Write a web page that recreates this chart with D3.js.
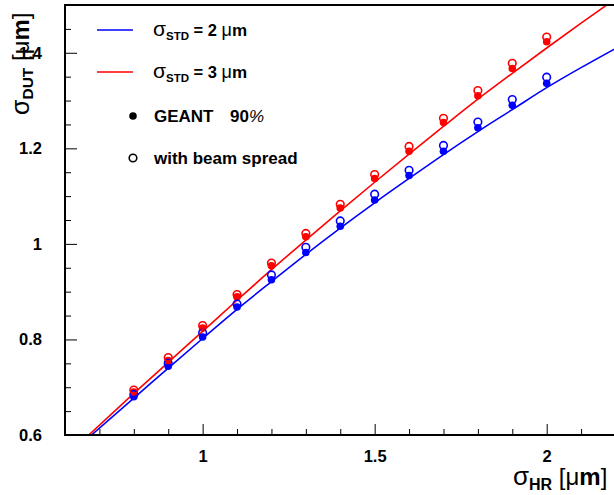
<!DOCTYPE html>
<html>
<head>
<meta charset="utf-8">
<script src="https://cdn.jsdelivr.net/npm/d3@7"></script>
<style>
  html, body { margin: 0; padding: 0; background: #fff; }
  svg { display: block; font-family: "Liberation Sans", Arial, sans-serif; }
</style>
</head>
<body>
<svg id="chart" width="614" height="495"></svg>
<script>
// ---- data ----
const sigmaHR = [0.8, 0.9, 1.0, 1.1, 1.2, 1.3, 1.4, 1.5, 1.6, 1.7, 1.8, 1.9, 2.0];
const geant2 = [0.680, 0.744, 0.805, 0.868, 0.925, 0.982, 1.037, 1.092, 1.143, 1.194, 1.243, 1.290, 1.336];
const beam2  = [0.685, 0.750, 0.814, 0.874, 0.935, 0.993, 1.048, 1.104, 1.154, 1.206, 1.255, 1.302, 1.349];
const geant3 = [0.690, 0.756, 0.824, 0.889, 0.954, 1.015, 1.075, 1.137, 1.194, 1.254, 1.310, 1.367, 1.423];
const beam3  = [0.694, 0.762, 0.829, 0.894, 0.960, 1.022, 1.083, 1.145, 1.204, 1.263, 1.321, 1.378, 1.433];

const curveX2 = [0.677, 0.8, 0.9, 1.0, 1.1, 1.2, 1.3, 1.4, 1.5, 1.6, 1.7, 1.8, 1.9, 2.0, 2.1, 2.2];
const curveY2 = [0.600, 0.677, 0.740, 0.802, 0.863, 0.921, 0.978, 1.033, 1.086, 1.137, 1.187, 1.235, 1.281, 1.327, 1.369, 1.409];
const curveX3 = [0.669, 0.8, 0.9, 1.0, 1.1, 1.2, 1.3, 1.4, 1.5, 1.6, 1.7, 1.8, 1.9, 2.0, 2.1, 2.2];
const curveY3 = [0.600, 0.687, 0.752, 0.817, 0.882, 0.946, 1.008, 1.069, 1.129, 1.188, 1.246, 1.303, 1.357, 1.410, 1.462, 1.513];

const xMajor = [1, 1.5, 2];
const xMajorLabels = ["1", "1.5", "2"];
const xMinor = [0.7, 0.8, 0.9, 1.1, 1.2, 1.3, 1.4, 1.6, 1.7, 1.8, 1.9, 2.1];
const yMajor = [0.6, 0.8, 1.0, 1.2, 1.4];
const yMajorLabels = ["0.6", "0.8", "1", "1.2", "1.4"];
const yMinor = [0.65, 0.7, 0.75, 0.85, 0.9, 0.95, 1.05, 1.1, 1.15, 1.25, 1.3, 1.35, 1.45];

const BLUE = "#0000ff", RED = "#ff0000";

// ---- layout ----
const svg = d3.select("#chart");
const x = d3.scaleLinear().domain([0.6, 2.2]).range([65, 615.5]);
const y = d3.scaleLinear().domain([0.6, 1.5]).range([435, 5]);

svg.append("defs").append("clipPath").attr("id", "clip")
  .append("rect").attr("x", x(0.6)).attr("y", y(1.5)).attr("width", x(2.2) - x(0.6)).attr("height", y(0.6) - y(1.5));

const plot = svg.append("g").attr("clip-path", "url(#clip)");

const line = d3.line().x(d => x(d[0])).y(d => y(d[1])).curve(d3.curveMonotoneX);
plot.append("path").datum(curveX2.map((v, i) => [v, curveY2[i]]))
  .attr("d", line).attr("fill", "none").attr("stroke", BLUE).attr("stroke-width", 1.6);
plot.append("path").datum(curveX3.map((v, i) => [v, curveY3[i]]))
  .attr("d", line).attr("fill", "none").attr("stroke", RED).attr("stroke-width", 1.6);

function filled(vals, color) {
  plot.append("g").selectAll("circle").data(sigmaHR).join("circle")
    .attr("cx", d => x(d)).attr("cy", (d, i) => y(vals[i])).attr("r", 3.8).attr("fill", color);
}
function open(vals, color) {
  plot.append("g").selectAll("circle").data(sigmaHR).join("circle")
    .attr("cx", d => x(d)).attr("cy", (d, i) => y(vals[i])).attr("r", 3.8)
    .attr("fill", "none").attr("stroke", color).attr("stroke-width", 1.6);
}
filled(geant2, BLUE);
filled(geant3, RED);
open(beam2, BLUE);
open(beam3, RED);

// ---- axes / frame ----
const frame = svg.append("g");
frame.append("line").attr("x1", x(0.6)).attr("x2", 614).attr("y1", y(0.6)).attr("y2", y(0.6)).attr("stroke", "#000").attr("stroke-width", 2);
frame.append("line").attr("x1", x(0.6)).attr("x2", 614).attr("y1", y(1.5)).attr("y2", y(1.5)).attr("stroke", "#000").attr("stroke-width", 2);
frame.append("line").attr("x1", x(0.6)).attr("x2", x(0.6)).attr("y1", y(0.6) + 1).attr("y2", y(1.5) - 1).attr("stroke", "#000").attr("stroke-width", 2);

const xAxis = d3.axisBottom(x).tickValues(xMajor).tickSize(-11).tickFormat((d, i) => xMajorLabels[i]).tickPadding(15);
const gx = svg.append("g").attr("transform", `translate(0,${y(0.6)})`).call(xAxis);
gx.select(".domain").remove();
gx.selectAll(".tick line").attr("stroke", "#000").attr("stroke-width", 1);
gx.selectAll(".tick text").attr("font-size", 16.5).attr("font-weight", "bold").attr("fill", "#000")
  .attr("font-family", "Liberation Sans, Arial, sans-serif");

const xAxisMinor = d3.axisBottom(x).tickValues(xMinor).tickSize(-6).tickFormat("");
const gxm = svg.append("g").attr("transform", `translate(0,${y(0.6)})`).call(xAxisMinor);
gxm.select(".domain").remove();
gxm.selectAll(".tick line").attr("stroke", "#000").attr("stroke-width", 1);

const yAxis = d3.axisLeft(y).tickValues(yMajor).tickSize(-12).tickFormat((d, i) => yMajorLabels[i]).tickPadding(23);
const gy = svg.append("g").attr("transform", `translate(${x(0.6)},0)`).call(yAxis);
gy.select(".domain").remove();
gy.selectAll(".tick line").attr("stroke", "#000").attr("stroke-width", 1);
gy.selectAll(".tick text").attr("font-size", 16.5).attr("font-weight", "bold").attr("fill", "#000")
  .attr("font-family", "Liberation Sans, Arial, sans-serif");

const yAxisMinor = d3.axisLeft(y).tickValues(yMinor).tickSize(-6).tickFormat("");
const gym = svg.append("g").attr("transform", `translate(${x(0.6)},0)`).call(yAxisMinor);
gym.select(".domain").remove();
gym.selectAll(".tick line").attr("stroke", "#000").attr("stroke-width", 1);

// ---- axis titles ----
const xt = svg.append("text").attr("x", 513).attr("y", 485).attr("fill", "#000");
xt.append("tspan").attr("font-size", 26).text("σ");
xt.append("tspan").attr("font-size", 16).attr("font-weight", "bold").attr("dy", 5).text("HR");
xt.append("tspan").attr("font-size", 24).attr("dy", -5).text(" [μ");
xt.append("tspan").attr("font-size", 24).attr("font-weight", "bold").text("m");
xt.append("tspan").attr("font-size", 24).text("]");

const yt = svg.append("text").attr("transform", "translate(29,115) rotate(-90)").attr("fill", "#000");
yt.append("tspan").attr("font-size", 25).text("σ");
yt.append("tspan").attr("font-size", 15.5).attr("font-weight", "bold").attr("dy", 4).text("DUT");
yt.append("tspan").attr("font-size", 24).attr("dy", -4).text(" [μ");
yt.append("tspan").attr("font-size", 24).attr("font-weight", "bold").text("m");
yt.append("tspan").attr("font-size", 24).text("]");

// ---- legend ----
const lg = svg.append("g");
const legendLines = [
  { color: BLUE, y: 30, val: "= 2 " },
  { color: RED, y: 72, val: "= 3 " }
];
legendLines.forEach(d => {
  lg.append("line").attr("x1", 97).attr("x2", 133).attr("y1", d.y).attr("y2", d.y).attr("stroke", d.color).attr("stroke-width", 1.6);
  const t = lg.append("text").attr("x", 153).attr("y", d.y + 6).attr("fill", "#000");
  t.append("tspan").attr("font-size", 21).text("σ");
  t.append("tspan").attr("font-size", 11.5).attr("font-weight", "bold").attr("dy", 4).text("STD");
  t.append("tspan").attr("font-size", 16.5).attr("font-weight", "bold").attr("dy", -4).text(" " + d.val);
  t.append("tspan").attr("font-size", 18).text("μ");
  t.append("tspan").attr("font-size", 17).attr("font-weight", "bold").text("m");
});
lg.append("circle").attr("cx", 133).attr("cy", 116).attr("r", 3.8).attr("fill", "#000");
const g1 = lg.append("text").attr("x", 154).attr("y", 122).attr("fill", "#000").attr("font-size", 17);
g1.append("tspan").attr("font-weight", "bold").text("GEANT");
g1.append("tspan").attr("font-weight", "bold").attr("x", 230).text("90");
g1.append("tspan").attr("font-style", "italic").text("%");
lg.append("circle").attr("cx", 133).attr("cy", 158).attr("r", 3.8).attr("fill", "none").attr("stroke", "#000").attr("stroke-width", 1.6);
lg.append("text").attr("x", 154).attr("y", 164).attr("fill", "#000").attr("font-size", 17).attr("font-weight", "bold").text("with beam spread");
</script>
</body>
</html>
